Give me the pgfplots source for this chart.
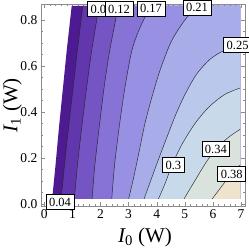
\documentclass[border=0pt]{standalone}
\usepackage{pgfplots}
\pgfplotsset{compat=1.18}
\usepackage{fontspec}
\setmainfont{Liberation Serif}
\definecolor{b0}{RGB}{78,26,146}
\definecolor{b1}{RGB}{98,54,172}
\definecolor{b2}{RGB}{117,84,196}
\definecolor{b3}{RGB}{135,114,214}
\definecolor{b4}{RGB}{152,144,226}
\definecolor{b5}{RGB}{168,172,232}
\definecolor{b6}{RGB}{186,200,236}
\definecolor{b7}{RGB}{200,218,234}
\definecolor{b8}{RGB}{218,226,222}
\definecolor{b9}{RGB}{238,228,206}
\definecolor{framegray}{RGB}{140,140,140}
\newcommand\tf{\fontsize{13.5}{15}\selectfont}
\newcommand\lbf{\fontsize{12.5}{14}\selectfont}
\newcommand\lf{\fontsize{21}{24}\selectfont}
\begin{document}
\begin{tikzpicture}
\begin{axis}[
  width=204pt, height=202pt, scale only axis,
  xmin=-0.12, xmax=7.14, ymin=-0.009, ymax=0.87,
  xtick={0,1,2,3,4,5,6,7},
  ytick={0,0.2,0.4,0.6,0.8},
  yticklabels={0.0,0.2,0.4,0.6,0.8},
  minor x tick num=4, minor y tick num=3,
  tick align=inside,
  major tick length=4pt, minor tick length=2pt,
  axis line style={framegray},
  every tick/.style={framegray},
  tick label style={font=\tf},
  /pgf/number format/assume math mode=true,
  clip=false,
  xlabel={\lf{\itshape I}\textsubscript{0} (W)},
  ylabel={\lf{\itshape I}\textsubscript{1} (W)},
  xlabel style={at={(axis description cs:0.51,-0.155)}, anchor=center},
  ylabel style={at={(axis description cs:-0.14,0.5)}, anchor=center},
]
% filled bands
\addplot[fill=b0, draw=none] coordinates {(0.28,0.022) (0.40,0.17) (0.52,0.33) (0.66,0.50) (0.80,0.67) (0.975,0.862) (6.97,0.862) (6.97,0.022)} --cycle;
\addplot[fill=b1, draw=none] coordinates {(0.60,0.022) (0.72,0.17) (0.86,0.33) (1.02,0.50) (1.18,0.67) (1.37,0.862) (6.97,0.862) (6.97,0.022)} --cycle;
\addplot[fill=b2, draw=none] coordinates {(1.07,0.022) (1.18,0.17) (1.33,0.33) (1.50,0.50) (1.69,0.67) (1.95,0.862) (6.97,0.862) (6.97,0.022)} --cycle;
\addplot[fill=b3, draw=none] coordinates {(1.70,0.022) (1.80,0.17) (1.95,0.33) (2.12,0.50) (2.33,0.67) (2.64,0.862) (6.97,0.862) (6.97,0.022)} --cycle;
\addplot[fill=b4, draw=none] coordinates {(2.40,0.022) (2.50,0.17) (2.66,0.33) (2.86,0.50) (3.12,0.67) (3.45,0.78) (3.80,0.862) (6.97,0.862) (6.97,0.022)} --cycle;
\addplot[fill=b5, draw=none] coordinates {(3.0,0.022) (3.17,0.11) (3.36,0.22) (3.58,0.35) (3.84,0.47) (4.14,0.59) (4.53,0.71) (5.0,0.80) (5.45,0.862) (6.97,0.862) (6.97,0.022)} --cycle;
\addplot[fill=b6, draw=none] coordinates {(3.55,0.022) (3.78,0.10) (4.05,0.19) (4.36,0.29) (4.68,0.39) (5.02,0.48) (5.42,0.565) (5.9,0.63) (6.4,0.668) (6.97,0.69) (6.97,0.022)} --cycle;
\addplot[fill=b7, draw=none] coordinates {(4.06,0.022) (4.30,0.09) (4.56,0.174) (4.90,0.26) (5.36,0.35) (5.84,0.42) (6.40,0.475) (6.97,0.505) (6.97,0.022)} --cycle;
\addplot[fill=b8, draw=none] coordinates {(4.97,0.022) (5.35,0.10) (5.75,0.18) (6.11,0.24) (6.55,0.29) (6.97,0.325) (6.97,0.022)} --cycle;
\addplot[fill=b9, draw=none] coordinates {(5.97,0.022) (6.3,0.075) (6.66,0.133) (6.97,0.17) (6.97,0.022)} --cycle;
% contour lines
\pgfplotsset{cl/.style={black!85, line width=0.45pt, smooth}}
\addplot[cl] coordinates {(0.60,0.022) (0.72,0.17) (0.86,0.33) (1.02,0.50) (1.18,0.67) (1.37,0.862)};
\addplot[cl] coordinates {(1.07,0.022) (1.18,0.17) (1.33,0.33) (1.50,0.50) (1.69,0.67) (1.95,0.862)};
\addplot[cl] coordinates {(1.70,0.022) (1.80,0.17) (1.95,0.33) (2.12,0.50) (2.33,0.67) (2.64,0.862)};
\addplot[cl] coordinates {(2.40,0.022) (2.50,0.17) (2.66,0.33) (2.86,0.50) (3.12,0.67) (3.45,0.78) (3.80,0.862)};
\addplot[cl] coordinates {(3.0,0.022) (3.17,0.11) (3.36,0.22) (3.58,0.35) (3.84,0.47) (4.14,0.59) (4.53,0.71) (5.0,0.80) (5.45,0.862)};
\addplot[cl] coordinates {(3.55,0.022) (3.78,0.10) (4.05,0.19) (4.36,0.29) (4.68,0.39) (5.02,0.48) (5.42,0.565) (5.9,0.63) (6.4,0.668) (6.97,0.69)};
\addplot[cl] coordinates {(4.06,0.022) (4.30,0.09) (4.56,0.174) (4.90,0.26) (5.36,0.35) (5.84,0.42) (6.40,0.475) (6.97,0.505)};
\addplot[cl] coordinates {(4.97,0.022) (5.35,0.10) (5.75,0.18) (6.11,0.24) (6.55,0.29) (6.97,0.325)};
\addplot[cl] coordinates {(5.97,0.022) (6.3,0.075) (6.66,0.133) (6.97,0.17)};
% contour labels
\addplot[only marks, mark=*, mark size=0.01pt, mark options={draw=none, fill=none},
  nodes near coords, point meta=explicit symbolic,
  every node near coord/.style={anchor=center, draw=black, fill=white, line width=0.7pt,
    font=\lbf, inner xsep=3pt, inner ysep=3pt, text height=9pt, text depth=0pt}]
  coordinates {(0.559,0.009)[0.04] (2.035,0.85)[0.08] (2.659,0.85)[0.12] (3.797,0.851)[0.17]
   (5.434,0.855)[0.21] (6.876,0.691)[0.25] (4.59,0.170)[0.3] (6.103,0.238)[0.34] (6.669,0.130)[0.38]};
\end{axis}
\pgfresetboundingbox
\path ([shift={(-40.9pt,-42pt)}]current axis.south west) rectangle ([shift={(4pt,4pt)}]current axis.north east);
\end{tikzpicture}
\end{document}
